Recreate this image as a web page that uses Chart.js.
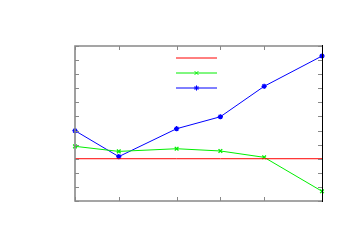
<!DOCTYPE html>
<html><head><meta charset="utf-8">
<script src="https://cdn.jsdelivr.net/npm/chart.js@4"></script>
<style>html,body{margin:0;padding:0;background:#fff}#wrap{width:350px;height:250px}</style>
</head><body><div id="wrap"><canvas id="c" width="350" height="250"></canvas></div>
<script>
const xValues = [1, 2, 5, 10, 20, 50];
const redValues = [0, 0, 0, 0, 0, 0];
const greenValues = [0.88, 0.52, 0.71, 0.55, 0.10, -2.31];
const blueValues = [1.99, 0.15, 2.13, 2.98, 5.14, 7.29];
const xTicks = [1, 2, 5, 10, 20, 50];
const yTicks = [-3, -2, -1, 0, 1, 2, 3, 4, 5, 6, 7, 8];

const pts = arr => arr.map((v, i) => ({x: xValues[i], y: v}));

const frame = {
  id: 'frame',
  afterDatasetsDraw(chart) {
    const {ctx, chartArea: a, scales} = chart;
    ctx.save();
    ctx.strokeStyle = '#888888';
    ctx.lineWidth = 1;
    const L = 4;
    ctx.beginPath();
    xTicks.forEach(t => {
      const x = Math.round(scales.x.getPixelForValue(t)) + 0.5;
      ctx.moveTo(x, a.bottom); ctx.lineTo(x, a.bottom - L);
      ctx.moveTo(x, a.top); ctx.lineTo(x, a.top + L);
    });
    yTicks.forEach(t => {
      const y = Math.round(scales.y.getPixelForValue(t)) + 0.5;
      ctx.moveTo(a.left, y); ctx.lineTo(a.left + L, y);
      ctx.moveTo(a.right, y); ctx.lineTo(a.right - L, y);
    });
    ctx.stroke();
    ctx.lineWidth = 1.6;
    ctx.beginPath();
    ctx.moveTo(a.right, a.top); ctx.lineTo(a.left, a.top);
    ctx.lineTo(a.left, a.bottom); ctx.lineTo(a.right, a.bottom);
    ctx.stroke();
    ctx.strokeStyle = '#000000';
    ctx.lineWidth = 1;
    ctx.beginPath();
    ctx.moveTo(Math.round(a.right) + 0.5, a.top - 1); ctx.lineTo(Math.round(a.right) + 0.5, a.bottom + 1);
    ctx.stroke();
    // key samples
    const x0 = 176, x1 = 217, ys = [58, 73, 88];
    chart.data.datasets.forEach((ds, i) => {
      ctx.strokeStyle = ds.borderColor;
      ctx.lineWidth = ds.borderWidth;
      ctx.beginPath();
      ctx.moveTo(x0, ys[i]); ctx.lineTo(x1, ys[i]);
      ctx.stroke();
      if (ds.pointStyle && ds.pointRadius > 0) {
        Chart.helpers.drawPoint(ctx, {pointStyle: ds.pointStyle, radius: ds.pointRadius, borderWidth: ds.pointBorderWidth, rotation: 0}, (x0 + x1) / 2, ys[i]);
      }
    });
    ctx.restore();
  }
};

new Chart(document.getElementById('c'), {
  type: 'line',
  data: {
    datasets: [
      {data: pts(redValues), borderColor: '#ff0000', backgroundColor: '#ff0000', borderWidth: 1, pointRadius: 0, pointStyle: false, clip: false},
      {data: pts(greenValues), borderColor: '#00ee00', backgroundColor: '#00ee00', borderWidth: 1, pointStyle: 'crossRot', pointRadius: 2.6, pointBorderWidth: 1.3, clip: false},
      {data: pts(blueValues), borderColor: '#0000ff', backgroundColor: '#0000ff', borderWidth: 1, pointStyle: 'star', pointRadius: 2.6, pointBorderWidth: 1.3, clip: false}
    ]
  },
  options: {
    responsive: false,
    animation: false,
    events: [],
    layout: {padding: {left: 75, right: 28, top: 46, bottom: 49}},
    plugins: {legend: {display: false}, tooltip: {enabled: false}},
    elements: {line: {tension: 0}},
    scales: {
      x: {type: 'logarithmic', min: 1, max: 50, display: false},
      y: {type: 'linear', min: -3, max: 8, display: false}
    }
  },
  plugins: [frame]
});
</script></body></html>
